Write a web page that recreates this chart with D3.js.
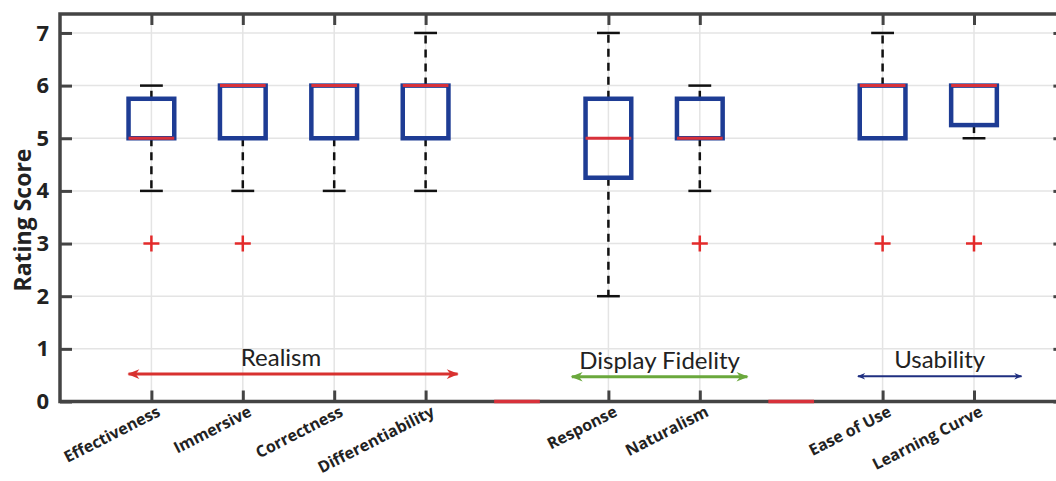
<!DOCTYPE html>
<html><head><meta charset="utf-8">
<script src="https://cdn.jsdelivr.net/npm/d3@7"></script>
<style>body{margin:0;background:#fff;} svg{display:block;}</style>
</head><body>
<svg id="chart" width="1056" height="481"></svg>
<script>
// ---- data ----
const categories = ["Effectiveness","Immersive","Correctness","Differentiability","","Response","Naturalism","","Ease of Use","Learning Curve"];
const whiskerLow = [4,4,4,4,0,2,4,0,5,5];
const q1         = [5,5,5,5,0,4.25,5,0,5,5.25];
const median     = [5,6,6,6,0,5,5,0,6,6];
const q3         = [5.75,6,6,6,0,5.75,5.75,0,6,6];
const whiskerHigh= [6,6,6,7,0,7,6,0,7,6];
const outliers   = [[3],[3],[],[],[],[],[3],[],[3],[3]];
const yTicks = [0,1,2,3,4,5,6,7];
const groups = [
  {label:"Realism", from:0.75, to:4.35, y:0.52, color:"#d8312f"},
  {label:"Display Fidelity", from:5.6, to:7.52, y:0.47, color:"#6aa83c"},
  {label:"Usability", from:8.73, to:10.52, y:0.48, color:"#1f2f80"}
];

(function(){
const svg = d3.select("#chart");
const pLeft = 60, pTop = 14, pBottom = 401.5, unit = 91.4;
const x = d3.scaleLinear().domain([0, 11]).range([pLeft, pLeft + unit*11]);
const y = d3.scaleLinear().domain([0, 7.36]).range([pBottom, pTop]);
const pRight = x(11);
const boxW = x(0.5) - x(0);
const capW = x(0.25) - x(0);
const tickPos = categories.map((c,i)=>i+1).filter((p,i)=>categories[i] !== "");
const FONT = "'Open Sans', sans-serif";

// grid
const g = svg.append("g");
g.selectAll(".hg").data(yTicks).join("line")
  .attr("x1", pLeft).attr("x2", pRight).attr("y1", d=>y(d)).attr("y2", d=>y(d))
  .attr("stroke", "#e4e4e4").attr("stroke-width", 1.5);
g.selectAll(".vg").data(tickPos).join("line")
  .attr("x1", d=>x(d)).attr("x2", d=>x(d)).attr("y1", pTop).attr("y2", pBottom)
  .attr("stroke", "#e4e4e4").attr("stroke-width", 1.5);

// axes
const axL = d3.axisLeft(y).tickValues(yTicks).tickSize(-12).tickPadding(11).tickFormat(d3.format("d"));
const axR = d3.axisRight(y).tickValues(yTicks).tickSize(-12).tickFormat("");
const axB = d3.axisBottom(x).tickValues(tickPos).tickSize(-11).tickFormat("");
const axT = d3.axisTop(x).tickValues(tickPos).tickSize(-11).tickFormat("");
function styleAx(sel){
  sel.select(".domain").remove();
  sel.selectAll(".tick line").attr("stroke","#444").attr("stroke-width",3);
}
svg.append("g").attr("transform",`translate(${pLeft},0)`).call(axL).call(styleAx)
  .selectAll("text").attr("font-family",FONT).attr("font-weight","bold").attr("font-size",22).attr("fill","#222");
svg.append("g").attr("transform",`translate(${pRight},0)`).call(axR).call(styleAx);
svg.append("g").attr("transform",`translate(0,${pBottom})`).call(axB).call(styleAx);
svg.append("g").attr("transform",`translate(0,${pTop})`).call(axT).call(styleAx);

// x labels
svg.append("g").selectAll("text").data(categories.map((c,i)=>({c,p:i+1})).filter(d=>d.c!==""))
  .join("text")
  .attr("transform", d=>`translate(${x(d.p)+8},${pBottom+10}) rotate(-27)`)
  .attr("text-anchor","end").attr("dominant-baseline","middle")
  .attr("font-family",FONT).attr("font-weight","bold").attr("font-size",16).attr("fill","#222")
  .text(d=>d.c);

// y label
svg.append("text").attr("transform",`translate(31,${220}) rotate(-90)`)
  .attr("text-anchor","middle").attr("font-family",FONT).attr("font-weight","bold")
  .attr("font-size",23).attr("fill","#222").text("Rating Score");

// frame
svg.append("path").attr("d",`M${pLeft},${pTop}H${pRight}V${pBottom}H${pLeft}Z`)
  .attr("fill","none").attr("stroke","#444").attr("stroke-width",3.5);

// boxes
const bx = svg.append("g");
categories.forEach((c,i)=>{
  const p = i+1, cx = x(p);
  if (c === "") {
    bx.append("line").attr("x1",cx-boxW/2).attr("x2",cx+boxW/2).attr("y1",y(median[i])).attr("y2",y(median[i]))
      .attr("stroke","#d8313a").attr("stroke-width",3.5);
    return;
  }
  if (whiskerHigh[i] > q3[i]) {
    bx.append("line").attr("x1",cx).attr("x2",cx).attr("y1",y(q3[i])).attr("y2",y(whiskerHigh[i]))
      .attr("stroke","#111").attr("stroke-width",2.5).attr("stroke-dasharray","8,6");
  }
  bx.append("line").attr("x1",cx-capW/2).attr("x2",cx+capW/2).attr("y1",y(whiskerHigh[i])).attr("y2",y(whiskerHigh[i]))
    .attr("stroke","#111").attr("stroke-width",2.5);
  if (whiskerLow[i] < q1[i]) {
    bx.append("line").attr("x1",cx).attr("x2",cx).attr("y1",y(q1[i])).attr("y2",y(whiskerLow[i]))
      .attr("stroke","#111").attr("stroke-width",2.5).attr("stroke-dasharray","8,6");
  }
  bx.append("line").attr("x1",cx-capW/2).attr("x2",cx+capW/2).attr("y1",y(whiskerLow[i])).attr("y2",y(whiskerLow[i]))
    .attr("stroke","#111").attr("stroke-width",2.5);
  bx.append("rect").attr("x",cx-boxW/2).attr("y",y(q3[i])).attr("width",boxW).attr("height",y(q1[i])-y(q3[i]))
    .attr("fill","none").attr("stroke","#1e3c94").attr("stroke-width",4.5);
  bx.append("line").attr("x1",cx-boxW/2).attr("x2",cx+boxW/2).attr("y1",y(median[i])).attr("y2",y(median[i]))
    .attr("stroke","#d8313a").attr("stroke-width",3);
  outliers[i].forEach(o=>{
    bx.append("path").attr("d",`M${cx-8},${y(o)}H${cx+8}M${cx},${y(o)-8}V${y(o)+8}`)
      .attr("stroke","#e32a2a").attr("stroke-width",2.5);
  });
});

// group arrows
const defs = svg.append("defs");
groups.forEach((gr,k)=>{
  defs.append("marker").attr("id","ah"+k).attr("viewBox","0 0 10 10").attr("refX",9).attr("refY",5)
    .attr("markerWidth",5).attr("markerHeight",4).attr("orient","auto-start-reverse").attr("markerUnits","strokeWidth")
    .append("path").attr("d","M0,1L10,5L0,9L3,5Z").attr("fill",gr.color);
  svg.append("line").attr("x1",x(gr.from)).attr("x2",x(gr.to)).attr("y1",y(gr.y)).attr("y2",y(gr.y))
    .attr("stroke",gr.color).attr("stroke-width", k===2 ? 2 : 3)
    .attr("marker-start",`url(#ah${k})`).attr("marker-end",`url(#ah${k})`);
  svg.append("text").attr("x",(x(gr.from)+x(gr.to))/2 + (k===0?-12:0)).attr("y",y(gr.y)-8)
    .attr("text-anchor","middle").attr("font-family","Lato, sans-serif").attr("font-size",24).attr("fill","#222")
    .text(gr.label);
});
})();
</script>
</body></html>
